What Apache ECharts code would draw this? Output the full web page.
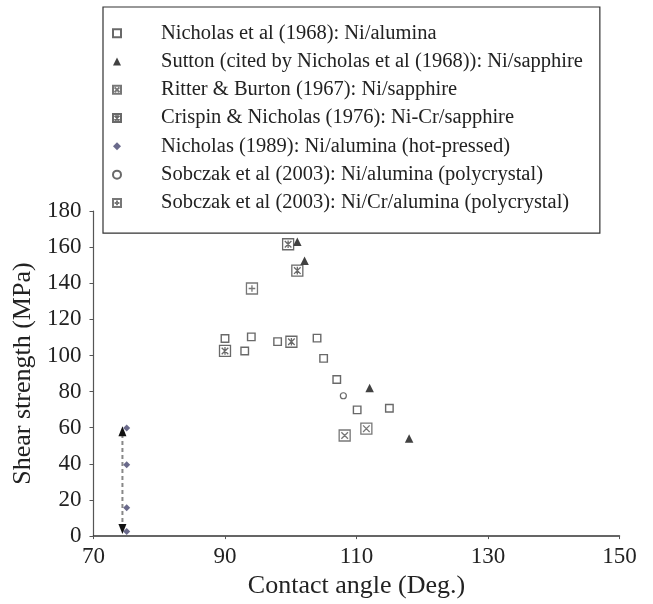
<!DOCTYPE html>
<html>
<head>
<meta charset="utf-8">
<title>Shear strength vs contact angle</title>
<script src="https://cdn.jsdelivr.net/npm/echarts@6/dist/echarts.min.js"></script>
<style>
  html, body { margin: 0; padding: 0; background: #fff; }
  #chart { width: 653px; height: 604px; }
</style>
</head>
<body>
<div id="chart"></div>
<script>
// Shear strength (MPa) against contact angle (deg.) for Ni-based metal/alumina joints
const xTicks = [70, 90, 110, 130, 150];
const yTicks = [0, 20, 40, 60, 80, 100, 120, 140, 160, 180];

const nicholas1968 = [
  [90.0, 109.4], [93.0, 102.5], [94.0, 110.3], [98.0, 107.7], [104.0, 109.6],
  [105.0, 98.4], [107.0, 86.7], [110.1, 69.9], [115.0, 70.8]
];
const sutton = [[101.0, 163.0], [102.1, 152.4], [112.0, 82.0], [118.0, 54.0]];
const ritterBurton = [[108.2, 55.7], [111.5, 59.5]];
const crispinNicholas = [[99.6, 161.6], [101.0, 147.0], [100.1, 107.6], [90.0, 102.5]];
const nicholas1989 = [[75.05, 59.8], [75.05, 39.5], [75.05, 15.7], [75.05, 2.5]];
const sobczakNi = [[108.0, 77.7]];
const sobczakNiCr = [[94.1, 137.1]];
// range bar (double-headed arrow) for the hot-pressed data
const rangeX = [74.4, 74.4];
const rangeY = [4.0, 58.0];

const names = [
  'Nicholas et al (1968): Ni/alumina',
  'Sutton (cited by Nicholas et al (1968)): Ni/sapphire',
  'Ritter & Burton (1967): Ni/sapphire',
  'Crispin & Nicholas (1976): Ni-Cr/sapphire',
  'Nicholas (1989): Ni/alumina (hot-pressed)',
  'Sobczak et al (2003): Ni/alumina (polycrystal)',
  'Sobczak et al (2003): Ni/Cr/alumina (polycrystal)'
];

const FONT = 'Liberation Serif';
const boxX = 'path://M0,0H10V10H0Z M2,2L8,8 M8,2L2,8';
const boxAst = 'path://M0,0H10V10H0Z M2,2L8,8 M8,2L2,8 M5,1.5V8.5';
const boxPlus = 'path://M0,0H10V10H0Z M5,2V8 M2,5H8';

const chart = echarts.init(document.getElementById('chart'), null, { renderer: 'canvas' });

const option = {
  animation: false,
  backgroundColor: '#fff',
  grid: { left: 93.5, right: 33.5, top: 211, bottom: 60, containLabel: false },
  xAxis: {
    type: 'value', min: xTicks[0], max: xTicks[xTicks.length - 1], interval: 20,
    name: 'Contact angle (Deg.)', nameLocation: 'middle', nameGap: 26,
    nameTextStyle: { fontFamily: FONT, fontSize: 26, color: '#222' },
    axisLine: { lineStyle: { color: '#333', width: 1.5 } },
    axisTick: { length: 3, lineStyle: { color: '#555' } },
    axisLabel: { fontFamily: FONT, fontSize: 23, color: '#222', margin: 9 },
    splitLine: { show: false }
  },
  yAxis: {
    type: 'value', min: yTicks[0], max: yTicks[yTicks.length - 1], interval: 20,
    name: 'Shear strength (MPa)', nameLocation: 'middle', nameGap: 53,
    nameTextStyle: { fontFamily: FONT, fontSize: 26, color: '#222' },
    axisLine: { show: true, lineStyle: { color: '#555', width: 1.2 } },
    axisTick: { show: true, length: 4, lineStyle: { color: '#555' } },
    axisLabel: { fontFamily: FONT, fontSize: 23, color: '#222', margin: 12 },
    splitLine: { show: false }
  },
  legend: {
    orient: 'vertical', left: 103, top: 7,
    padding: [12, 17, 16, 9],
    itemGap: 0, itemWidth: 8, itemHeight: 8,
    borderColor: '#333', borderWidth: 1.2, backgroundColor: '#fff',
    textStyle: { fontFamily: FONT, fontSize: 20.5, color: '#222', lineHeight: 28.3, padding: [0, 0, 0, 35] },
    data: names
  },
  series: [
    {
      name: names[0], type: 'scatter', data: nicholas1968,
      symbol: 'rect', symbolSize: 7.5,
      itemStyle: { color: '#fff', borderColor: '#444', borderWidth: 1.4 }
    },
    {
      name: names[1], type: 'scatter', data: sutton,
      symbol: 'triangle', symbolSize: 8.5,
      itemStyle: { color: '#111' }
    },
    {
      name: names[2], type: 'scatter', data: ritterBurton,
      symbol: boxX, symbolSize: 11,
      itemStyle: { color: '#fff', borderColor: '#555', borderWidth: 1.3 }
    },
    {
      name: names[3], type: 'scatter', data: crispinNicholas,
      symbol: boxAst, symbolSize: 11,
      itemStyle: { color: '#fff', borderColor: '#444', borderWidth: 1.3 }
    },
    {
      name: names[4], type: 'scatter', data: nicholas1989,
      symbol: 'diamond', symbolSize: 7,
      itemStyle: { color: '#45456e' }
    },
    {
      name: names[5], type: 'scatter', data: sobczakNi,
      symbol: 'circle', symbolSize: 6,
      itemStyle: { color: '#fff', borderColor: '#444', borderWidth: 1.2 }
    },
    {
      name: names[6], type: 'scatter', data: sobczakNiCr,
      symbol: boxPlus, symbolSize: 11,
      itemStyle: { color: '#fff', borderColor: '#555', borderWidth: 1.3 }
    },
    {
      type: 'line', silent: true, z: 1,
      data: rangeX.map((x, i) => ({
        value: [x, rangeY[i]],
        symbolRotate: i === 0 ? 180 : 0
      })),
      symbol: 'triangle', symbolSize: [8, 10], showSymbol: true,
      itemStyle: { color: '#111' },
      lineStyle: { color: '#888', width: 2, type: [4, 3] }
    }
  ]
};

chart.setOption(option);
</script>
</body>
</html>
